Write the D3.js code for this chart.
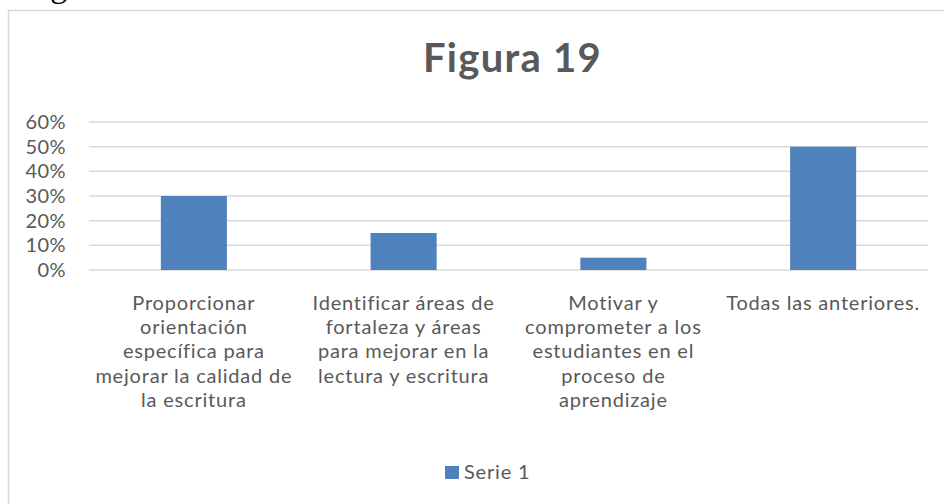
<!DOCTYPE html>
<html>
<head>
<meta charset="utf-8">
<script src="https://cdn.jsdelivr.net/npm/d3@7"></script>
<style>
  body { margin: 0; background: #fff; }
  svg { display: block; }
  text { font-family: Lato, "Open Sans", sans-serif; fill: #595959; }
</style>
</head>
<body>
<svg width="944" height="504"></svg>
<script>
// datos
var categorias = [
  "Proporcionar\norientación\nespecífica para\nmejorar la calidad de\nla escritura",
  "Identificar áreas de\nfortaleza y áreas\npara mejorar en la\nlectura y escritura",
  "Motivar y\ncomprometer a los\nestudiantes en el\nproceso de\naprendizaje",
  "Todas las anteriores."
];
var serie1 = [0.30, 0.15, 0.05, 0.50];
var yTicks = [0, 0.1, 0.2, 0.3, 0.4, 0.5, 0.6];
var titulo = "Figura 19";
var nombreSerie = "Serie 1";

var svg = d3.select("svg"),
    margin = { top: 122, right: 16, bottom: 234, left: 89 },
    width = +svg.attr("width") - margin.left - margin.right,
    height = +svg.attr("height") - margin.top - margin.bottom;

// texto cortado del documento (arriba a la izquierda)
svg.append("text")
  .attr("x", 22).attr("y", -3)
  .style("font-family", "'Liberation Serif', serif")
  .style("font-size", "34px")
  .style("fill", "#000")
  .text("Figura");

// borde del gráfico
svg.append("rect")
  .attr("x", 8.5).attr("y", 10.5)
  .attr("width", 960).attr("height", 520)
  .attr("fill", "none")
  .attr("stroke", "#d9d9d9")
  .attr("stroke-width", 1.5);

var x = d3.scaleBand().domain(categorias).range([0, width]).paddingInner(0.685).paddingOuter(0.3425),
    y = d3.scaleLinear().domain([0, 0.6]).range([height, 0]);

var g = svg.append("g").attr("transform", "translate(" + margin.left + "," + margin.top + ")");

// líneas de cuadrícula
g.append("g")
  .selectAll("line")
  .data(yTicks)
  .enter().append("line")
  .attr("x1", 0).attr("x2", width)
  .attr("y1", function (d) { return y(d); })
  .attr("y2", function (d) { return y(d); })
  .attr("stroke", "#d9d9d9")
  .attr("stroke-width", 1.5);

// eje Y
var yAxis = d3.axisLeft(y).tickValues(yTicks).tickFormat(d3.format(".0%")).tickSize(0).tickPadding(23);
var gy = g.append("g").call(yAxis);
gy.select(".domain").remove();
gy.selectAll("text")
  .style("font-family", "Lato, sans-serif")
  .style("font-size", "20px")
  .style("letter-spacing", "0.4px")
  .attr("fill", "#595959");

// barras
g.selectAll(".bar")
  .data(serie1)
  .enter().append("rect")
  .attr("class", "bar")
  .attr("x", function (d, i) { return x(categorias[i]); })
  .attr("y", function (d) { return y(d); })
  .attr("width", x.bandwidth())
  .attr("height", function (d) { return height - y(d); })
  .attr("fill", "#4f81bd");

// etiquetas de categorías
var xAxis = d3.axisBottom(x).tickSize(0).tickFormat("");
var gx = g.append("g").attr("transform", "translate(0," + height + ")").call(xAxis);
gx.select(".domain").remove();
gx.selectAll(".tick").each(function (d) {
  var t = d3.select(this).append("text")
    .attr("text-anchor", "middle")
    .attr("y", 40)
    .style("font-size", "20px")
    .style("letter-spacing", "0.8px");
  d.split("\n").forEach(function (linea, k) {
    t.append("tspan").attr("x", 0).attr("dy", k === 0 ? 0 : 24.2).text(linea);
  });
});

// título
svg.append("text")
  .attr("x", margin.left + width / 2 + 4)
  .attr("y", 72)
  .attr("text-anchor", "middle")
  .style("font-weight", "bold")
  .style("font-size", "40px")
  .style("letter-spacing", "1.3px")
  .text(titulo);

// leyenda
var leyenda = svg.append("g").attr("transform", "translate(445,466)");
leyenda.append("rect").attr("width", 14).attr("height", 13).attr("fill", "#4f81bd");
leyenda.append("text").attr("x", 19).attr("y", 13)
  .style("font-size", "20px").style("letter-spacing", "0.8px").text(nombreSerie);
</script>
</body>
</html>
